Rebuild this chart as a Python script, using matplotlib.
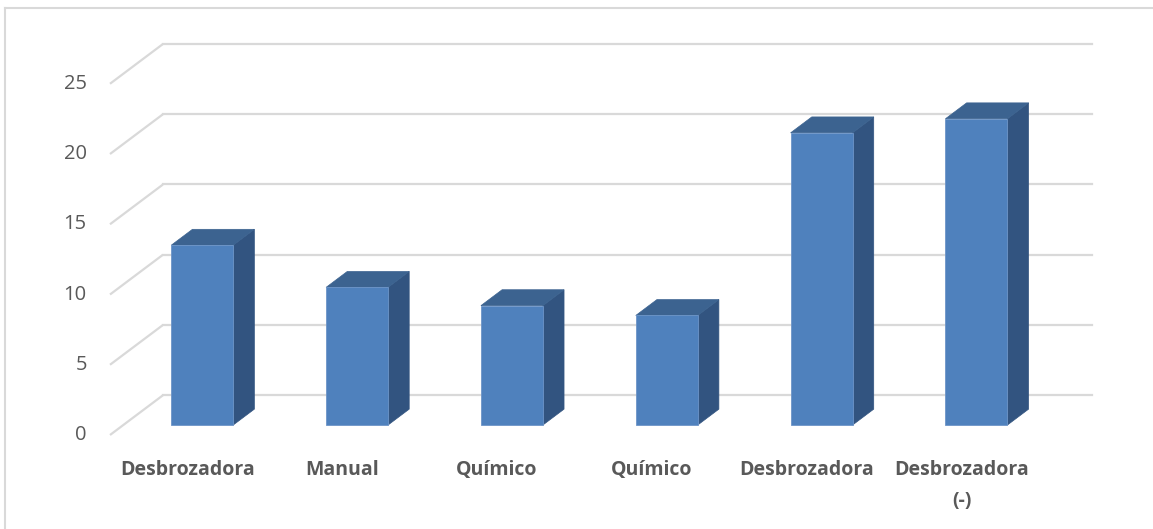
import matplotlib
matplotlib.use("Agg")
import matplotlib.pyplot as plt
from matplotlib.patches import Polygon
from matplotlib.lines import Line2D
import numpy as np

categories = ["Desbrozadora", "Manual", "Químico", "Químico", "Desbrozadora", "Desbrozadora\n(-)"]
values = [12.8, 9.8, 8.5, 7.8, 20.8, 21.8]
yticks = [0, 5, 10, 15, 20, 25]

W, H = 1153, 529
fig = plt.figure(figsize=(W / 100, H / 100), dpi=100)
fig.patch.set_facecolor("white")

# outer chart border (left + top)
fig.add_artist(Line2D([5 / W, 5 / W], [0, 1 - 8 / H], transform=fig.transFigure, color="#d9d9d9", lw=1.5))
fig.add_artist(Line2D([5 / W, 1], [1 - 8 / H, 1 - 8 / H], transform=fig.transFigure, color="#d9d9d9", lw=1.5))

# depth of the oblique projection in data units
DX = 0.342   # category units
DY = 2.83    # value units
ymax = 25

x_left_px, x_right_px = 110, 1092
y_bot_px, y_top_px = 435, 44
ax = fig.add_axes([x_left_px / W, 1 - y_bot_px / H, (x_right_px - x_left_px) / W, (y_bot_px - y_top_px) / H])
n = len(categories)
ax.set_xlim(-0.5, n - 0.5 + DX)
ax.set_ylim(0, ymax + DY)
ax.axis("off")

grid_c = "#d9d9d9"
for t in yticks:
    ax.plot([-0.5, -0.5 + DX], [t, t + DY], color=grid_c, lw=1.6, solid_capstyle="butt", clip_on=False, zorder=1)
    ax.plot([-0.5 + DX, n - 0.5 + DX], [t + DY, t + DY], color=grid_c, lw=1.6, clip_on=False, zorder=1)
    ax.text(-0.5 - 0.15, t, str(t), ha="right", va="center", fontsize=14.5, color="#595959",
            family="Open Sans", clip_on=False)

front_c = "#4f81bd"
side_c = "#325480"
top_c = "#3c6390"
width = 0.4
d0, d1 = 0.25, 0.65
x = np.arange(n)
sx0, sy0 = d0 * DX, d0 * DY
ddx, ddy = (d1 - d0) * DX, (d1 - d0) * DY

ax.bar(x + sx0 + 0.01, values, width=width, bottom=sy0, color=front_c, edgecolor="#6d95c8", linewidth=0.6, zorder=3)
for xi, v in zip(x, values):
    xl = xi - width / 2 + sx0 + 0.01
    xr = xi + width / 2 + sx0 + 0.01
    yb = sy0
    yt = v + sy0
    side = Polygon([(xr, yb), (xr + ddx, yb + ddy), (xr + ddx, yt + ddy), (xr, yt)], closed=True,
                   facecolor=side_c, edgecolor=side_c, lw=0.5, zorder=2)
    top = Polygon([(xl, yt), (xl + ddx, yt + ddy), (xr + ddx, yt + ddy), (xr, yt)], closed=True,
                  facecolor=top_c, edgecolor=top_c, lw=0.5, zorder=2)
    ax.add_patch(side)
    ax.add_patch(top)

for xi, lab in zip(x, categories):
    ax.text(xi, -1.75, lab, ha="center", va="top", fontsize=14, fontweight="bold", color="#595959",
            family="Open Sans", linespacing=1.75, clip_on=False)

fig.savefig("out.png", dpi=100, facecolor="white")
